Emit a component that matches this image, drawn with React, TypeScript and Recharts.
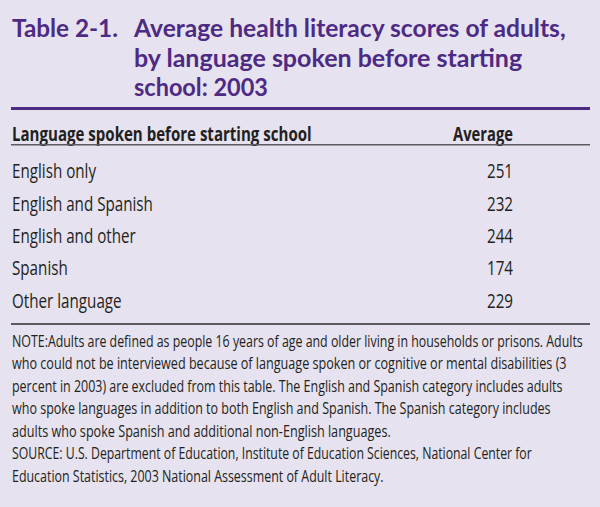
import { BarChart, Bar, XAxis, YAxis, LabelList } from "recharts";

const languages = ["English only", "English and Spanish", "English and other", "Spanish", "Other language"];
const averages = [251, 232, 244, 174, 229];

const tableLabel = "Table 2-1.";
const titleLines = [
  "Average health literacy scores of adults,",
  "by language spoken before starting",
  "school: 2003",
];
const headers = ["Language spoken before starting school", "Average"];
const noteLines = [
  "NOTE:Adults are defined as people 16 years of age and older living in households or prisons. Adults",
  "who could not be interviewed because of language spoken or cognitive or mental disabilities (3",
  "percent in 2003) are excluded from this table. The English and Spanish category includes adults",
  "who spoke languages in addition to both English and Spanish. The Spanish category includes",
  "adults who spoke Spanish and additional non-English languages.",
  "SOURCE: U.S. Department of Education, Institute of Education Sciences, National Center for",
  "Education Statistics, 2003 National Assessment of Adult Literacy.",
];

const rows = languages.map((name, i) => ({ name, avg: averages[i] }));

// widths of the static lines, so the condensed face of the original is matched
const titleWidths = [433, 389, 134];
const noteWidths = [571, 555, 551, 539, 379, 520, 372];

const BG = "#e6e2ef";
const PURPLE = "#4d2a84";
const INK = "#231f20";
const RULE = "#5c5a60";
const FONT = '"Open Sans", "Noto Sans", sans-serif';
const TITLE_FONT = 'Lato, "Open Sans", sans-serif';
const SQUEEZE = 0.76;
const VALUE_RIGHT = 513;

let ctx: CanvasRenderingContext2D | null = null;
function measure(text: string, size: number, weight: number, family: string) {
  if (!ctx) ctx = document.createElement("canvas").getContext("2d");
  if (!ctx) return text.length * size * 0.5;
  ctx.font = `${weight} ${size}px ${family}`;
  return ctx.measureText(text).width;
}

type FitProps = {
  x: number;
  y: number;
  w: number;
  size: number;
  bold?: boolean;
  color?: string;
  family?: string;
  anchor?: "start" | "end";
  children: string;
};

// condensed text: squeeze the line horizontally to the given width
function Fit({ x, y, w, size, bold, color = INK, family = FONT, anchor = "start", children }: FitProps) {
  const weight = bold ? 700 : 400;
  const k = w / measure(children, size, weight, family);
  return (
    <g transform={`translate(${x} ${y}) scale(${k} 1)`}>
      <text x={0} y={0} textAnchor={anchor} fill={color} fontFamily={family} fontSize={size} fontWeight={weight}>
        {children}
      </text>
    </g>
  );
}

function RowTick(props: any) {
  const { y, payload } = props;
  return (
    <g transform={`translate(12 ${y}) scale(${SQUEEZE} 1)`}>
      <text x={0} y={0} dy="0.35em" textAnchor="start" fill={INK} fontFamily={FONT} fontSize={20}>
        {payload.value}
      </text>
    </g>
  );
}

function ValueLabel(props: any) {
  const { y, height, value } = props;
  return (
    <g transform={`translate(${VALUE_RIGHT} ${y + height / 2}) scale(${SQUEEZE} 1)`}>
      <text x={0} y={0} dy="0.35em" textAnchor="end" fill={INK} fontFamily={FONT} fontSize={20}>
        {value}
      </text>
    </g>
  );
}

export default function App() {
  return (
    <div style={{ position: "fixed", left: 0, top: 0, width: 600, height: 507, background: BG, overflow: "hidden" }}>
      <svg width={600} height={507} style={{ position: "absolute", left: 0, top: 0 }}>
        {/* title */}
        <Fit x={12} y={37} w={106} size={24} bold color={PURPLE} family={TITLE_FONT}>
          {tableLabel}
        </Fit>
        {titleLines.map((t, i) => (
          <Fit key={t} x={134} y={37 + i * 29.5} w={titleWidths[i]} size={24} bold color={PURPLE} family={TITLE_FONT}>
            {t}
          </Fit>
        ))}
        <rect x={11} y={107} width={579} height={3} fill={PURPLE} />

        {/* header */}
        <Fit x={12} y={141} w={300} size={20} bold>
          {headers[0]}
        </Fit>
        <Fit x={VALUE_RIGHT} y={141} w={60} size={20} bold anchor="end">
          {headers[1]}
        </Fit>
        <rect x={11} y={144} width={579} height={1.5} fill={RULE} />

        {/* bottom rule */}
        <rect x={11} y={323} width={579} height={2} fill={RULE} />

        {/* notes */}
        {noteLines.map((t, i) => (
          <Fit key={t} x={12} y={347 + i * 22.45} w={noteWidths[i]} size={16}>
            {t}
          </Fit>
        ))}
      </svg>

      {/* table rows */}
      <div style={{ position: "absolute", left: 0, top: 155 }}>
        <BarChart width={600} height={162} data={rows} layout="vertical" margin={{ top: 0, right: 0, bottom: 0, left: 0 }}>
          <XAxis type="number" hide domain={[0, 300]} />
          <YAxis type="category" dataKey="name" width={10} axisLine={false} tickLine={false} tick={<RowTick />} />
          <Bar dataKey="avg" fill="transparent" isAnimationActive={false}>
            <LabelList dataKey="avg" content={<ValueLabel />} />
          </Bar>
        </BarChart>
      </div>
    </div>
  );
}
